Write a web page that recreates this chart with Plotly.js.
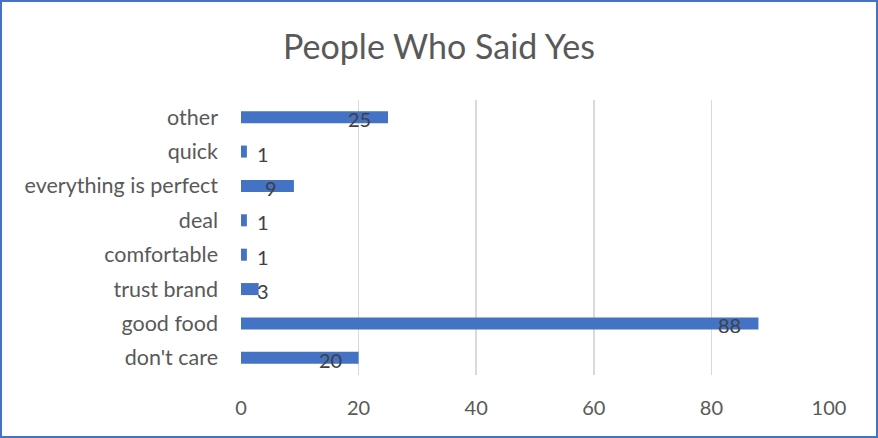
<!DOCTYPE html>
<html>
<head>
<meta charset="utf-8">
<script src="https://cdn.plot.ly/plotly-3.0.1.min.js"></script>
<style>
html,body{margin:0;padding:0;background:#fff;}
#chart{width:878px;height:438px;box-sizing:border-box;border:2px solid #4472C4;}
</style>
</head>
<body>
<div id="chart"></div>
<script>
var categories = ["don't care", "good food", "trust brand", "comfortable", "deal", "everything is perfect", "quick", "other"];
var values = [20, 88, 3, 1, 1, 9, 1, 25];
var xTicks = [0, 20, 40, 60, 80, 100];

var FONT = "Lato, sans-serif";
var labelMin = 7.6;

var annotations = categories.map(function (c, i) {
  return {
    x: Math.max(values[i], labelMin), y: c, xref: 'x', yref: 'y',
    text: String(values[i]), showarrow: false,
    xanchor: 'right', xshift: -15, yshift: -2,
    font: {family: FONT, size: 20, color: '#404040'}
  };
});

var trace = {
  type: 'bar', orientation: 'h',
  x: values, y: categories,
  marker: {color: '#4472C4'},
  hoverinfo: 'none'
};

var layout = {
  width: 874, height: 434,
  margin: {l: 239, r: 47, t: 98, b: 61, pad: 0},
  paper_bgcolor: '#fff', plot_bgcolor: '#fff',
  title: {text: 'People Who Said Yes', x: 0.5, xanchor: 'center', y: 0.896, yanchor: 'middle',
          font: {family: FONT, size: 34, color: '#595959'}},
  bargap: 0.65,
  showlegend: false,
  xaxis: {range: [0, 100], tickvals: xTicks, ticktext: xTicks.map(String),
          showgrid: true, gridcolor: '#d9d9d9', gridwidth: 1.5, zeroline: false,
          showline: false, ticks: '', ticklabelstandoff: 19,
          tickfont: {family: FONT, size: 20, color: '#595959'}, fixedrange: true},
  yaxis: {type: 'category', categoryorder: 'array', categoryarray: categories,
          showgrid: false, zeroline: false, showline: false, ticks: '',
          ticklabelstandoff: 22,
          tickfont: {family: FONT, size: 21.5, color: '#595959'}, fixedrange: true},
  annotations: annotations
};

Plotly.newPlot('chart', [trace], layout, {displayModeBar: false, staticPlot: true});
</script>
</body>
</html>
